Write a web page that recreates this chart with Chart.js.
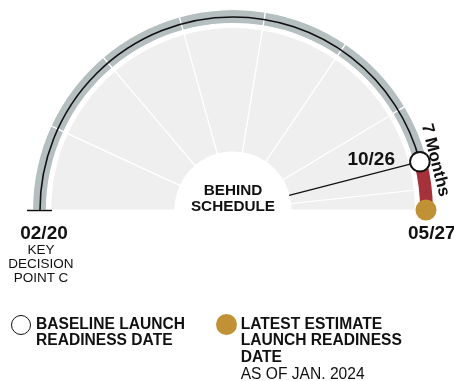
<!DOCTYPE html>
<html>
<head>
<meta charset="utf-8">
<script src="https://cdn.jsdelivr.net/npm/chart.js@4.4.1/dist/chart.umd.min.js"></script>
<style>
  html, body { margin: 0; padding: 0; background: #fff; }
  #wrap { position: relative; width: 454px; height: 381px; overflow: hidden; font-family: "Liberation Sans", Arial, sans-serif; color: #111; }
  #gauge { position: absolute; left: 0; top: 0; }
  .t { position: absolute; white-space: nowrap; }
  .b { font-weight: bold; }
  .center { text-align: center; }
  .sym { position: absolute; border-radius: 50%; box-sizing: border-box; }
</style>
</head>
<body>
<div id="wrap">
  <canvas id="gauge" width="454" height="381"></canvas>

  <div class="t b center" style="left:173px; top:181.8px; width:120px; font-size:15.3px; line-height:16px;">BEHIND<br>SCHEDULE</div>

  <div class="t b" id="baseLbl" style="right:59px; top:148.9px; font-size:19px; line-height:19px;"></div>
  <div class="t b center" id="startLbl" style="left:4px; top:223.2px; width:80px; font-size:19px; line-height:19px;"></div>
  <div class="t center" style="left:1px; top:243.3px; width:80px; font-size:13.5px; line-height:14px;">KEY<br>DECISION<br>POINT C</div>
  <div class="t b" id="estLbl" style="left:408px; top:223.2px; font-size:19px; line-height:19px;"></div>
  <div class="t b" id="slipLbl" style="left:435.5px; top:160px; font-size:17px; line-height:17px; transform: translate(-50%, -50%) rotate(76deg);"></div>

  <div class="sym" style="left:10.5px; top:315px; width:20px; height:20px; border:1.6px solid #111; background:#fff;"></div>
  <div class="t b" style="left:36px; top:315.6px; font-size:15.6px; line-height:16.7px;">BASELINE LAUNCH<br>READINESS DATE</div>

  <div class="sym" style="left:216.2px; top:313.5px; width:21px; height:21px; background:#c09235;"></div>
  <div class="t" style="left:240.7px; top:315.6px; font-size:15.6px; line-height:16.7px;"><span class="b">LATEST ESTIMATE<br>LAUNCH READINESS<br>DATE</span><br>AS OF JAN. 2024</div>
</div>

<script>
// Timeline runs from key decision point C (Feb 2020) to the latest
// launch readiness estimate (May 2027); one sector per year, in months.
const startDate = '02/20';
const baselineDate = '10/26';
const estimateDate = '05/27';
const slipLabel = '7 Months';

// Yearly sectors of the inner dial (Feb–Feb, last one Feb–May 2027)
const yearSectorMonths = [12, 12, 12, 12, 12, 12, 12, 3];
// Outer schedule band: on-schedule years up to the baseline (Oct 2026),
// then the 7-month slip to the current estimate
const scheduleMonths = [12, 12, 12, 12, 12, 12, 8, 7];
const scheduleKinds = ['plan', 'plan', 'plan', 'plan', 'plan', 'plan', 'plan', 'slip'];
const totalMonths = [87];

const bandGray = '#b5bfbf';
const slipRed = '#a5313b';
const estimateGold = '#c09235';
const dialGray = '#efefef';

document.getElementById('startLbl').textContent = startDate;
document.getElementById('baseLbl').textContent = baselineDate;
document.getElementById('estLbl').textContent = estimateDate;
document.getElementById('slipLbl').textContent = slipLabel;

// Draws the schedule line, the start tick, the needle and both date markers
// using the geometry of the arcs the doughnut controller laid out.
const gaugeMarks = {
  id: 'gaugeMarks',
  afterDatasetsDraw(chart) {
    const ctx = chart.ctx;
    const band = chart.getDatasetMeta(0).data;
    const dial = chart.getDatasetMeta(2).data;
    const first = band[0];
    const cx = first.x, cy = first.y;
    const mid = (first.innerRadius + first.outerRadius) / 2 - 0.5;
    const slipIdx = scheduleKinds.indexOf('slip');
    const baseAngle = band[slipIdx].startAngle;
    const estAngle = band[band.length - 1].endAngle;
    const innerR = dial[0].innerRadius;

    ctx.save();
    ctx.lineCap = 'butt';

    // schedule line from KDP-C to the baseline date
    ctx.strokeStyle = '#111';
    ctx.lineWidth = 1.6;
    ctx.beginPath();
    ctx.arc(cx, cy, mid, first.startAngle, baseAngle);
    ctx.stroke();

    // start tick
    ctx.lineWidth = 1.5;
    ctx.beginPath();
    ctx.moveTo(cx - mid - 13, cy + 0.5);
    ctx.lineTo(cx - mid + 12, cy + 0.5);
    ctx.stroke();

    // needle to the baseline date
    ctx.lineWidth = 1.3;
    ctx.beginPath();
    ctx.moveTo(cx + Math.cos(baseAngle) * innerR, cy + Math.sin(baseAngle) * innerR);
    ctx.lineTo(cx + Math.cos(baseAngle) * mid, cy + Math.sin(baseAngle) * mid);
    ctx.stroke();

    // latest estimate marker
    ctx.fillStyle = estimateGold;
    ctx.beginPath();
    ctx.arc(cx + Math.cos(estAngle) * mid, cy + Math.sin(estAngle) * mid, 10.5, 0, Math.PI * 2);
    ctx.fill();

    // baseline marker
    ctx.fillStyle = '#fff';
    ctx.lineWidth = 1.9;
    ctx.beginPath();
    ctx.arc(cx + Math.cos(baseAngle) * mid, cy + Math.sin(baseAngle) * mid, 9.8, 0, Math.PI * 2);
    ctx.fill();
    ctx.stroke();

    ctx.restore();
  }
};

const outerR = 200.5;
const innerR = 58;

new Chart(document.getElementById('gauge'), {
  type: 'doughnut',
  data: {
    labels: scheduleKinds,
    datasets: [
      {
        data: scheduleMonths,
        backgroundColor: scheduleKinds.map(k => k === 'slip' ? slipRed : bandGray),
        borderColor: '#fff',
        borderWidth: 1.2,
        weight: 14
      },
      {
        data: totalMonths,
        backgroundColor: 'rgba(0,0,0,0)',
        borderWidth: 0,
        weight: 4
      },
      {
        data: yearSectorMonths,
        backgroundColor: dialGray,
        borderColor: '#fff',
        borderWidth: 1.2,
        weight: outerR - innerR - 18
      }
    ]
  },
  options: {
    responsive: false,
    animation: false,
    events: [],
    rotation: -90,
    circumference: 180,
    radius: outerR,
    cutout: (innerR / outerR * 100) + '%',
    layout: { padding: { left: 12, right: 0, top: 0, bottom: 161.5 } },
    plugins: { legend: { display: false }, tooltip: { enabled: false } }
  },
  plugins: [gaugeMarks]
});
</script>
</body>
</html>
